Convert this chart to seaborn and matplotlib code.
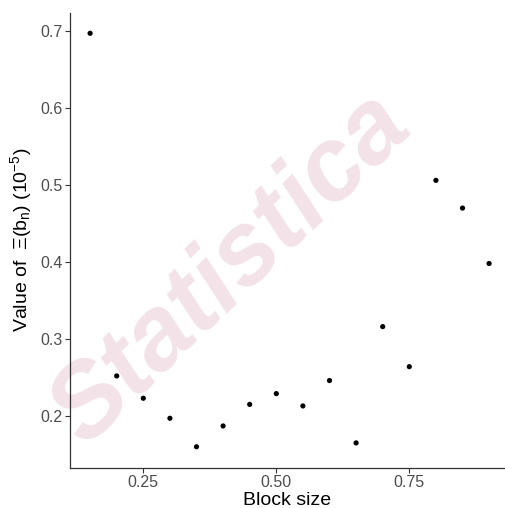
import matplotlib
matplotlib.use("Agg")
import matplotlib.pyplot as plt
import seaborn as sns
import pandas as pd

block_size = [0.15, 0.20, 0.25, 0.30, 0.35, 0.40, 0.45, 0.50, 0.55, 0.60,
              0.65, 0.70, 0.75, 0.80, 0.85, 0.90]
xi_value = [0.697, 0.252, 0.223, 0.197, 0.160, 0.187, 0.215, 0.229, 0.213, 0.246,
            0.165, 0.316, 0.264, 0.506, 0.470, 0.398]
x_ticks = [0.25, 0.50, 0.75]
x_tick_labels = ["0.25", "0.50", "0.75"]
y_ticks = [0.2, 0.3, 0.4, 0.5, 0.6, 0.7]
y_tick_labels = ["0.2", "0.3", "0.4", "0.5", "0.6", "0.7"]

df = pd.DataFrame({"block": block_size, "xi": xi_value})

sns.set_style("white")
plt.rcParams['font.family'] = ['Liberation Sans', 'DejaVu Sans']
plt.rcParams['mathtext.fontset'] = 'custom'
plt.rcParams['mathtext.rm'] = 'Liberation Sans'
plt.rcParams['mathtext.it'] = 'Liberation Sans:italic'

W, H = 505, 508
fig = plt.figure(figsize=(W / 100, H / 100), dpi=100)

# background axes holding the watermark
bg = fig.add_axes([0, 0, 1, 1], zorder=0)
bg.set_axis_off()
bg.text(0.46, 0.47, "Statistica", fontsize=74, fontweight="bold", style="italic",
        color="#f3e2e8", rotation=44, ha="center", va="center",
        transform=bg.transAxes)

ax = fig.add_axes([70 / W, 1 - 467.7 / H, (W - 70) / W, (467.7 - 12.5) / H], zorder=1)
ax.patch.set_alpha(0)

sns.scatterplot(data=df, x="block", y="xi", ax=ax, color="black", s=14,
                edgecolor="none", zorder=3)

ax.set_xlim(0.1122, 0.9299)
ax.set_ylim(0.1328, 0.724)
ax.set_xticks(x_ticks)
ax.set_xticklabels(x_tick_labels)
ax.set_yticks(y_ticks)
ax.set_yticklabels(y_tick_labels)

for s in ["top", "right"]:
    ax.spines[s].set_visible(False)
for s in ["left", "bottom"]:
    ax.spines[s].set_color("#333333")
    ax.spines[s].set_linewidth(0.9)

ax.tick_params(axis="both", which="major", length=3.5, width=0.8, color="#333333",
               labelcolor="#4d4d4d", labelsize=11.5, pad=2, direction="out",
               bottom=True, left=True)

ax.set_xlabel("Block size", fontsize=14, color="black", labelpad=1)
ax.set_ylabel(r"Value of  $\Xi(\mathrm{b_n})$ $(10^{-5})$", fontsize=14,
              color="black", labelpad=4)

fig.savefig("out.png", dpi=100)
